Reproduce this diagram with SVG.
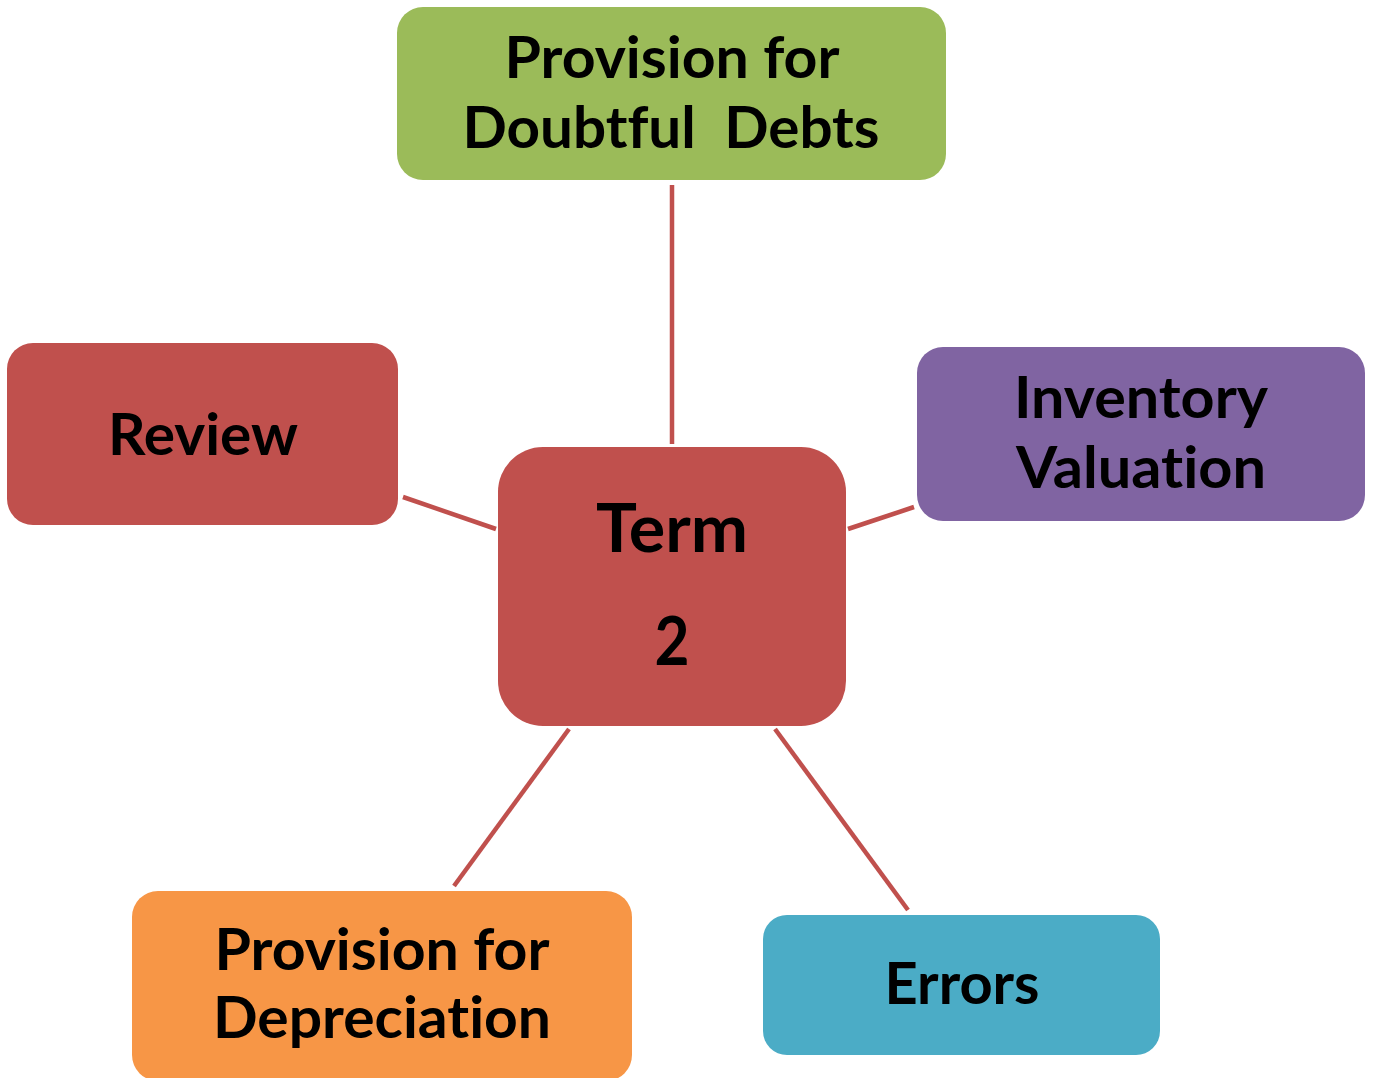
<svg xmlns="http://www.w3.org/2000/svg" width="1373" height="1078" viewBox="0 0 1373 1078">
<style>
.lbl{font-family:Lato,"Noto Sans","Liberation Sans",sans-serif;font-weight:bold;font-size:58px;fill:#000;text-anchor:middle;font-variant-ligatures:none;font-feature-settings:"liga" 0,"clig" 0,"dlig" 0}
.big{font-size:67px}
.conn line{stroke:#c0504d;stroke-width:4.5;fill:none}
</style>
<rect width="1373" height="1078" fill="#fff"/>
<g id="connectors" class="conn">
<line x1="672" y1="185" x2="672" y2="444"/>
<line x1="403" y1="497" x2="496" y2="529"/>
<line x1="848" y1="529" x2="914" y2="507"/>
<line x1="569" y1="729" x2="454" y2="886"/>
<line x1="775" y1="729" x2="908" y2="910"/>
</g>
<g id="node-doubtful">
<rect x="397" y="7" width="549" height="173" rx="26" fill="#9bbb59"/>
<text class="lbl" x="672" y="78" textLength="335" lengthAdjust="spacingAndGlyphs">Provision for</text>
<text class="lbl" x="671" y="148" textLength="417" lengthAdjust="spacingAndGlyphs" xml:space="preserve" style="white-space:pre">Doubtful  Debts</text>
</g>
<g id="node-review">
<rect x="7" y="343" width="391" height="182" rx="26" fill="#c0504d"/>
<text class="lbl" x="203" y="455" textLength="190" lengthAdjust="spacingAndGlyphs">Review</text>
</g>
<g id="node-inventory">
<rect x="917" y="347" width="448" height="174" rx="26" fill="#8064a2"/>
<text class="lbl" x="1141" y="418" textLength="254" lengthAdjust="spacingAndGlyphs">Inventory</text>
<text class="lbl" x="1141" y="488" textLength="250" lengthAdjust="spacingAndGlyphs">Valuation</text>
</g>
<g id="node-term">
<rect x="498" y="447" width="348" height="279" rx="45" fill="#c0504d"/>
<text class="lbl big" x="672" y="552" textLength="152" lengthAdjust="spacingAndGlyphs">Term</text>
<text class="lbl big" x="672" y="665" textLength="35" lengthAdjust="spacingAndGlyphs">2</text>
</g>
<g id="node-depreciation">
<rect x="132" y="891" width="500" height="190" rx="26" fill="#f79646"/>
<text class="lbl" x="382" y="970" textLength="335" lengthAdjust="spacingAndGlyphs">Provision for</text>
<text class="lbl" x="382" y="1038" textLength="338" lengthAdjust="spacingAndGlyphs">Depreciation</text>
</g>
<g id="node-errors">
<rect x="763" y="915" width="397" height="140" rx="24" fill="#4bacc6"/>
<text class="lbl" x="962" y="1004" textLength="155" lengthAdjust="spacingAndGlyphs">Errors</text>
</g>
</svg>
